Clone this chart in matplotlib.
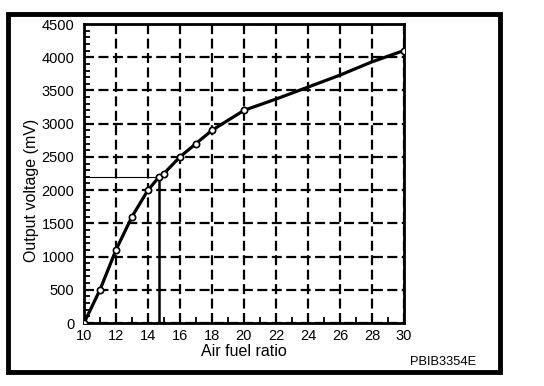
import matplotlib.pyplot as plt
from matplotlib.patches import Rectangle
from matplotlib.ticker import MultipleLocator

plt.rcParams['font.family'] = ['Liberation Sans', 'DejaVu Sans']

# 空燃比 - 输出电压 曲线
afr = [10, 11, 12, 13, 14, 14.7, 15, 16, 17, 18, 20, 22, 24, 26, 28, 30]
voltage = [0, 500, 1100, 1600, 2000, 2200, 2250, 2500, 2700, 2900, 3200,
           3370, 3550, 3730, 3930, 4100]
marked = [0, 1, 2, 3, 4, 5, 6, 7, 8, 9, 10, 15]  # 画圆圈的点

stoich_afr = 14.7
stoich_mv = 2200

x_ticks = [10, 12, 14, 16, 18, 20, 22, 24, 26, 28, 30]
y_ticks = [0, 500, 1000, 1500, 2000, 2500, 3000, 3500, 4000, 4500]

fig = plt.figure(figsize=(5.44, 3.86), dpi=100)
ax = fig.add_axes([0.1544, 0.1632, 0.588, 0.7746])

ax.plot(afr, voltage, color='black', lw=2.3, marker='o', markevery=marked,
        markersize=4.5, markerfacecolor='white', markeredgecolor='black',
        markeredgewidth=1.2, zorder=5)

# 理论空燃比辅助线
ax.plot([stoich_afr, stoich_afr], [0, stoich_mv], color='black', lw=1.8, zorder=4)
ax.plot([10, stoich_afr], [stoich_mv, stoich_mv], color='black', lw=0.8, zorder=4)

ax.set_xlim(10, 30)
ax.set_ylim(0, 4500)
ax.set_xticks(x_ticks)
ax.set_yticks(y_ticks)
ax.xaxis.set_minor_locator(MultipleLocator(1))
ax.yaxis.set_minor_locator(MultipleLocator(100))
ax.tick_params(which='major', direction='in', length=0, labelsize=10.5)
ax.tick_params(axis='y', which='major', pad=7)
ax.tick_params(axis='x', which='major', pad=4)
ax.tick_params(which='minor', direction='in', length=4, width=1.3)

ax.grid(True, which='major', color='black', linestyle=(0, (4.5, 2)), lw=1.6)
for s in ax.spines.values():
    s.set_linewidth(2)

ax.set_xlabel('Air fuel ratio', fontsize=11.5, labelpad=1)
ax.set_ylabel('Output voltage (mV)', fontsize=11.5)
ax.yaxis.set_label_coords(-0.14, 0.445)

fig.text(0.815, 0.062, 'PBIB3354E', fontsize=9.3, ha='center', va='center')

# 外框
fig.patches.append(Rectangle((8 / 544, 14 / 386), 492 / 544, 358 / 386,
                             transform=fig.transFigure, fill=False,
                             edgecolor='black', lw=3.5))

fig.savefig('out.png', dpi=100)
